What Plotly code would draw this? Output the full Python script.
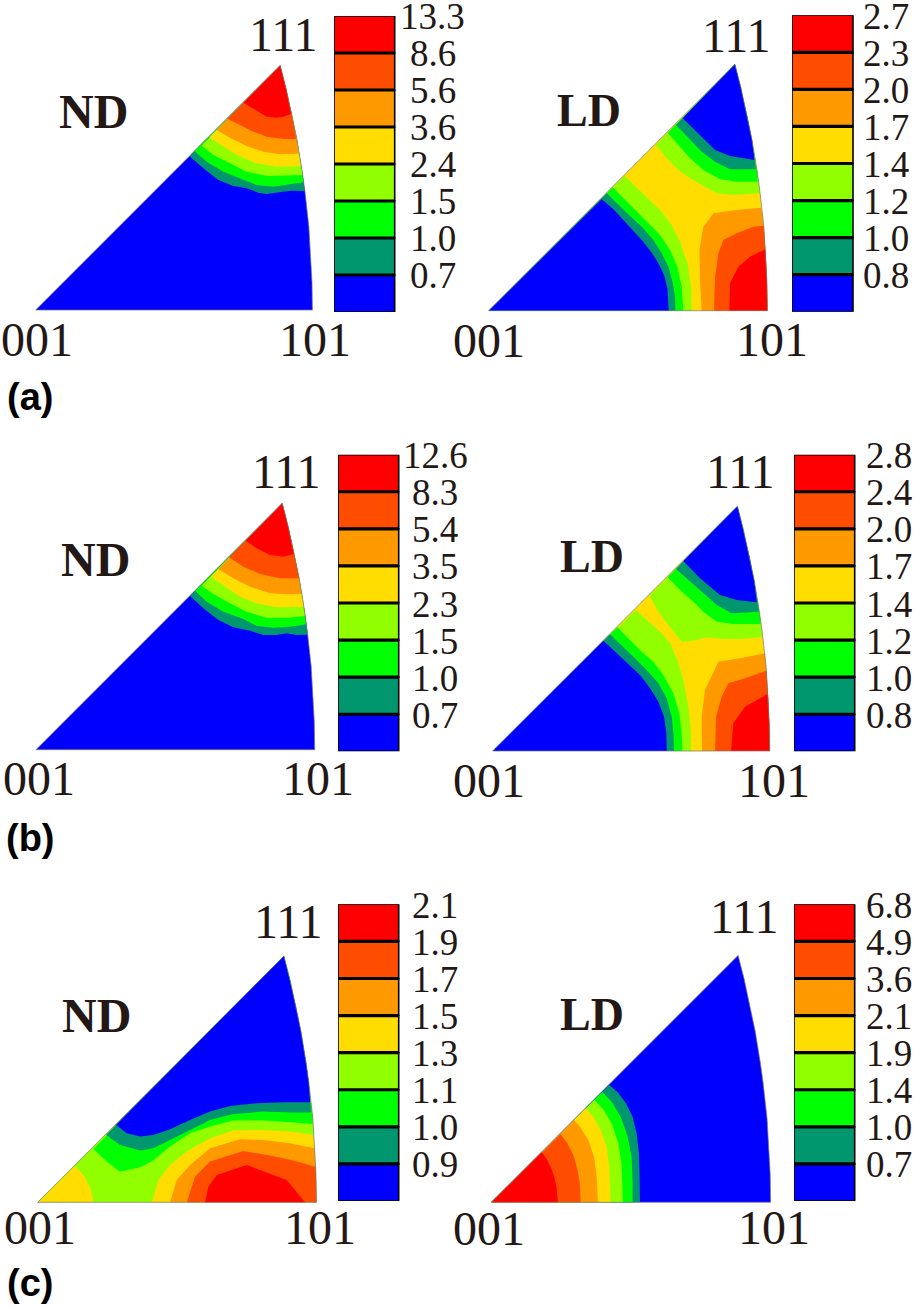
import plotly.graph_objects as go

# fill colour of each texture level, lowest first
LEVEL_COLORS = ["#0000FF", "#00966E", "#00FF00", "#91FF00", "#FFDD00", "#FF9900", "#FF4D00", "#FF0000"]
INK = "#231815"

# the 101-111 edge of the stereographic triangle, apex first (001-101 distance = 1)
ARC_X = [0.8836, 0.9050, 0.9274, 0.9445, 0.9632, 0.9731, 0.9872, 0.9942, 0.9985, 1.0]
ARC_Y = [0.884, 0.8, 0.7, 0.614, 0.5, 0.428, 0.301, 0.2, 0.1, 0.0]

# legend values, lowest first
A_ND_LABELS = ["0.7", "1.0", "1.5", "2.4", "3.6", "5.6", "8.6", "13.3"]
A_LD_LABELS = ["0.8", "1.0", "1.2", "1.4", "1.7", "2.0", "2.3", "2.7"]
B_ND_LABELS = ["0.7", "1.0", "1.5", "2.3", "3.5", "5.4", "8.3", "12.6"]
B_LD_LABELS = ["0.8", "1.0", "1.2", "1.4", "1.7", "2.0", "2.4", "2.8"]
C_ND_LABELS = ["0.9", "1.0", "1.1", "1.3", "1.5", "1.7", "1.9", "2.1"]
C_LD_LABELS = ["0.7", "1.0", "1.4", "1.9", "2.1", "3.6", "4.9", "6.8"]

# contour lines, in units where 001-101 = *_SPAN
# *_BASE is the level of the whole triangle, then each line fills one region on top of it
A_ND_SPAN = 830
A_ND_BASE = 0
A_ND_LEVEL = [1, 2, 3, 4, 5, 6, 7]
A_ND_KIND = ["top"] * 7
A_ND_X = [
    [461, 503, 548, 593, 633, 668, 693, 723, 763, 807],
    [476, 513, 563, 613, 663, 713, 763, 804],
    [498, 533, 583, 633, 693, 753, 801],
    [521, 563, 603, 663, 723, 796],
    [543, 583, 633, 683, 733, 788],
    [575, 613, 653, 693, 743, 781],
    [623, 658, 693, 723, 743, 766],
]
A_ND_Y = [
    [462, 425, 390, 372, 365, 352, 348, 352, 358, 357],
    [477, 445, 415, 395, 375, 370, 377, 383],
    [493, 465, 440, 415, 402, 403, 405],
    [518, 490, 465, 440, 430, 431],
    [540, 517, 492, 475, 467, 469],
    [574, 555, 535, 520, 513, 513],
    [622, 602, 580, 577, 580, 588],
]

A_LD_SPAN = 836
A_LD_BASE = 4
A_LD_LEVEL = [3, 2, 1, 0, 3, 2, 1, 0, 5, 6, 7]
A_LD_KIND = ["top"] * 4 + ["corner"] * 4 + ["right"] * 3
A_LD_X = [
    [501, 534, 569, 604, 639, 684, 734, 814],
    [537, 569, 604, 644, 694, 744, 807],
    [562, 599, 639, 679, 724, 801],
    [582, 624, 679, 724, 797],
    [407, 444, 484, 519, 549, 576, 596, 607, 609],
    [372, 409, 444, 479, 514, 544, 566, 579, 584],
    [354, 389, 424, 459, 494, 519, 539, 552, 559, 560],
    [339, 374, 404, 434, 464, 489, 509, 526, 536, 540],
    [639, 634, 632, 644, 674, 744, 817],
    [676, 679, 689, 704, 744, 794, 825],
    [722, 724, 749, 784, 829],
]
A_LD_Y = [
    [497, 457, 422, 397, 377, 352, 347, 352],
    [534, 497, 457, 422, 394, 387, 387],
    [557, 517, 477, 447, 424, 424],
    [577, 537, 482, 464, 452],
    [405, 370, 332, 297, 257, 202, 142, 72, 0],
    [370, 332, 297, 262, 227, 182, 132, 72, 0],
    [352, 317, 284, 252, 212, 172, 132, 82, 42, 0],
    [334, 304, 272, 240, 207, 174, 142, 107, 67, 0],
    [0, 92, 182, 252, 292, 302, 309],
    [0, 102, 172, 212, 232, 252, 255],
    [0, 82, 132, 162, 184],
]

B_ND_SPAN = 836
B_ND_BASE = 0
B_ND_LEVEL = [1, 2, 3, 4, 5, 6, 7]
B_ND_KIND = ["top"] * 7
B_ND_X = [
    [462, 502, 547, 592, 642, 682, 722, 752, 782, 814],
    [477, 512, 562, 622, 662, 712, 762, 811],
    [497, 532, 582, 632, 692, 752, 809],
    [525, 567, 612, 662, 722, 805],
    [547, 592, 642, 702, 752, 798],
    [579, 622, 672, 732, 789],
    [629, 662, 702, 742, 774],
]
B_ND_Y = [
    [461, 424, 389, 367, 357, 344, 344, 349, 344, 345],
    [477, 444, 414, 392, 371, 366, 369, 376],
    [492, 467, 439, 414, 396, 396, 401],
    [519, 489, 459, 439, 427, 429],
    [542, 514, 489, 469, 466, 467],
    [577, 549, 527, 514, 514],
    [627, 604, 584, 579, 587],
]

B_LD_SPAN = 831
B_LD_BASE = 4
B_LD_LEVEL = [3, 2, 1, 0, 3, 2, 1, 0, 5, 6, 7]
B_LD_KIND = ["top"] * 4 + ["corner"] * 4 + ["right"] * 3
B_LD_X = [
    [470, 497, 527, 567, 602, 642, 692, 742, 807],
    [525, 562, 602, 637, 672, 722, 804],
    [550, 592, 632, 672, 717, 799],
    [572, 622, 682, 732, 792],
    [429, 467, 507, 532, 554, 572, 587, 594, 595],
    [374, 412, 447, 482, 512, 542, 560, 567, 569],
    [352, 387, 422, 462, 497, 522, 537, 542, 544],
    [332, 367, 407, 442, 472, 497, 514, 521, 522],
    [628, 627, 637, 677, 742, 817],
    [667, 670, 687, 707, 757, 822],
    [715, 722, 757, 792, 825],
]
B_LD_Y = [
    [466, 418, 378, 328, 331, 341, 336, 336, 341],
    [521, 483, 448, 413, 388, 381, 381],
    [546, 508, 473, 438, 413, 418],
    [570, 518, 468, 453, 446],
    [423, 388, 353, 323, 273, 213, 133, 63, 0],
    [371, 333, 298, 268, 228, 173, 113, 53, 0],
    [350, 318, 283, 243, 203, 158, 103, 53, 0],
    [331, 298, 263, 228, 188, 148, 103, 53, 0],
    [0, 103, 183, 268, 278, 293],
    [0, 103, 163, 203, 218, 241],
    [0, 83, 133, 153, 171],
]

C_ND_SPAN = 836
C_ND_BASE = 3
C_ND_LEVEL = [2, 1, 0, 4, 4, 5, 6, 7]
C_ND_KIND = ["top"] * 3 + ["corner"] + ["right"] * 3 + ["base"]
C_ND_X = [
    [167, 207, 247, 307, 342, 397, 457, 517, 587, 677, 757, 824],
    [205, 247, 307, 347, 397, 457, 517, 587, 677, 757, 820],
    [235, 267, 307, 347, 397, 457, 517, 577, 657, 737, 817],
    [112, 142, 160, 167],
    [343, 362, 397, 447, 517, 587, 677, 757, 827],
    [397, 417, 457, 517, 607, 677, 757, 830],
    [447, 472, 517, 617, 697, 767, 833],
    [502, 512, 537, 627, 747, 802],
]
C_ND_Y = [
    [160, 122, 92, 105, 122, 167, 207, 227, 245, 245, 240, 235],
    [202, 172, 155, 162, 187, 217, 247, 265, 272, 269, 269],
    [232, 207, 197, 202, 219, 247, 272, 289, 297, 300, 300],
    [109, 75, 37, 0],
    [0, 67, 112, 152, 192, 215, 217, 212, 202],
    [0, 67, 112, 162, 189, 187, 177, 162],
    [0, 77, 122, 154, 140, 125, 107],
    [0, 47, 82, 112, 67, 0],
]

C_LD_SPAN = 838
C_LD_BASE = 0
C_LD_LEVEL = [1, 2, 3, 4, 5, 6, 7]
C_LD_KIND = ["corner"] * 7
C_LD_X = [
    [354, 379, 404, 424, 436, 443, 445, 446],
    [333, 361, 388, 408, 421, 424, 424],
    [309, 336, 361, 381, 391, 395],
    [283, 306, 328, 346, 354, 358],
    [248, 268, 291, 308, 316, 320],
    [208, 228, 246, 259, 266, 268],
    [151, 166, 179, 189, 196, 200],
]
C_LD_Y = [
    [352, 330, 297, 257, 207, 147, 77, 0],
    [332, 302, 257, 202, 137, 62, 0],
    [307, 279, 237, 177, 112, 0],
    [282, 257, 217, 167, 107, 0],
    [247, 224, 187, 137, 82, 0],
    [204, 177, 142, 97, 52, 0],
    [150, 130, 104, 77, 42, 0],
]

W, H = 916, 1306
SERIF = "Liberation Serif"
X_MIN, X_MAX, Y_MIN, Y_MAX = -0.12, 1.1, -0.15, 1.08


def close_region(kind, x, y):
    # walk round the triangle edge from the end of a contour line to shut the polygon
    x, y = list(x), list(y)
    if kind == "top":
        for ax, ay in reversed(list(zip(ARC_X, ARC_Y))):
            if ay > y[-1]:
                x.append(ax)
                y.append(ay)
    elif kind == "right":
        for ax, ay in zip(ARC_X, ARC_Y):
            if ay < y[-1]:
                x.append(ax)
                y.append(ay)
    elif kind == "corner":
        x.append(0)
        y.append(0)
    return x, y


def add_region(fig, n, x, y, level):
    fig.add_trace(go.Scatter(x=x, y=y, mode="lines", fill="toself", fillcolor=LEVEL_COLORS[level],
                             line=dict(width=0), hoverinfo="skip", xaxis=f"x{n}", yaxis=f"y{n}"))


def add_triangle(fig, n, name, labels, cx, cy, wpx, base, span, levels, kinds, xs, ys,
                 lab001, lab101, lab111, lab_name, box):
    add_region(fig, n, [0] + ARC_X, [0] + ARC_Y, base)
    for level, kind, x, y in zip(levels, kinds, xs, ys):
        px, py = close_region(kind, [v / span for v in x], [v / span for v in y])
        add_region(fig, n, px, py, level)
    fig.add_trace(go.Scatter(x=[0] + ARC_X + [0], y=[0] + ARC_Y + [0], mode="lines",
                             line=dict(color="#777777", width=0.7), hoverinfo="skip",
                             xaxis=f"x{n}", yaxis=f"y{n}"))
    fig.update_layout({
        f"xaxis{n}": dict(domain=[(cx + X_MIN * wpx) / W, (cx + X_MAX * wpx) / W],
                          range=[X_MIN, X_MAX], visible=False, anchor=f"y{n}"),
        f"yaxis{n}": dict(domain=[1 - (cy - Y_MIN * wpx) / H, 1 - (cy - Y_MAX * wpx) / H],
                          range=[Y_MIN, Y_MAX], visible=False, anchor=f"x{n}"),
    })
    for text, pos in zip(["001", "101", "111"], [lab001, lab101, lab111]):
        fig.add_annotation(text=text, x=pos[0], y=pos[1], xref=f"x{n}", yref=f"y{n}", showarrow=False,
                           font=dict(family=SERIF, size=48, color=INK))
    fig.add_annotation(text=f"<b>{name}</b>", x=lab_name[0], y=lab_name[1], xref=f"x{n}", yref=f"y{n}",
                       showarrow=False, font=dict(family=SERIF, size=48 if name == "ND" else 46, color=INK))

    # colour scale next to the triangle
    m = n + 6
    x0, x1, y0, y1, lab_x = box
    bw = x1 - x0
    fig.add_trace(go.Bar(x=[0] * 8, y=[1] * 8, base=list(range(8)), width=1,
                         marker=dict(color=LEVEL_COLORS, line=dict(color="black", width=1.6)),
                         hoverinfo="skip", cliponaxis=False, xaxis=f"x{m}", yaxis=f"y{m}"))
    sep_x, sep_y = [], []
    for i in range(1, 8):
        sep_x += [-0.5, 0.5, None]
        sep_y += [i, i, None]
    fig.add_trace(go.Scatter(x=sep_x, y=sep_y, mode="lines", line=dict(color="black", width=3.2),
                             hoverinfo="skip", xaxis=f"x{m}", yaxis=f"y{m}"))
    fig.update_layout({
        f"xaxis{m}": dict(domain=[x0 / W, (x0 + 2 * bw) / W], range=[-0.5, 1.5],
                          visible=False, anchor=f"y{m}"),
        f"yaxis{m}": dict(domain=[1 - y1 / H, 1 - y0 / H], range=[0, 8], visible=False, anchor=f"x{m}"),
    })
    for i, text in enumerate(labels):
        fig.add_annotation(text=text, x=lab_x, y=i + 1, xref=f"x{m}", yref=f"y{m}", showarrow=False, yshift=-1,
                           font=dict(family=SERIF, size=37, color=INK))


fig = go.Figure()

add_triangle(fig, 1, "ND", A_ND_LABELS, 35.7, 310, 276.7, A_ND_BASE, A_ND_SPAN, A_ND_LEVEL, A_ND_KIND, A_ND_X, A_ND_Y,
             (0.005, -0.108), (1.01, -0.108), (0.895, 0.994), (0.208, 0.717), (334, 394.7, 16, 312, 1.126))
add_triangle(fig, 2, "LD", A_LD_LABELS, 488.7, 310.7, 278.7, A_LD_BASE, A_LD_SPAN, A_LD_LEVEL, A_LD_KIND, A_LD_X, A_LD_Y,
             (0.0, -0.108), (1.017, -0.105), (0.888, 0.989), (0.361, 0.718), (792, 853, 15.3, 311.7, 1.04))
add_triangle(fig, 3, "ND", B_ND_LABELS, 36, 749.7, 278.7, B_ND_BASE, B_ND_SPAN, B_ND_LEVEL, B_ND_KIND, B_ND_X, B_ND_Y,
             (0.012, -0.103), (1.011, -0.103), (0.897, 0.998), (0.215, 0.684), (338, 398.7, 454.7, 751.3, 1.10))
add_triangle(fig, 4, "LD", B_LD_LABELS, 492.7, 751, 277, B_LD_BASE, B_LD_SPAN, B_LD_LEVEL, B_LD_KIND, B_LD_X, B_LD_Y,
             (-0.012, -0.105), (1.014, -0.105), (0.893, 1.008), (0.359, 0.702), (794, 854.7, 454.7, 751.3, 1.06))
add_triangle(fig, 5, "ND", C_ND_LABELS, 37.7, 1202.3, 278.7, C_ND_BASE, C_ND_SPAN, C_ND_LEVEL, C_ND_KIND, C_ND_X, C_ND_Y,
             (0.008, -0.091), (1.013, -0.091), (0.897, 1.007), (0.212, 0.672), (338, 398.7, 904.3, 1201, 1.10))
add_triangle(fig, 6, "LD", C_LD_LABELS, 491.3, 1202.3, 279.3, C_LD_BASE, C_LD_SPAN, C_LD_LEVEL, C_LD_KIND, C_LD_X, C_LD_Y,
             (-0.007, -0.093), (1.013, -0.091), (0.905, 1.025), (0.36, 0.671), (794, 854.7, 904.3, 1201, 1.06))

for text, py in zip(["(a)", "(b)", "(c)"], [397, 838, 1283]):
    fig.add_annotation(text=f"<b>{text}</b>", x=30 / W, y=1 - py / H, xref="paper", yref="paper", showarrow=False,
                       xanchor="center", yanchor="middle",
                       font=dict(family="Liberation Sans", size=38, color="black"))

fig.update_layout(width=W, height=H, margin=dict(l=0, r=0, t=0, b=0), showlegend=False,
                  paper_bgcolor="white", plot_bgcolor="white", barmode="overlay")
fig.write_html("out.html", config=dict(displayModeBar=False), post_script="document.body.style.margin='0';")
